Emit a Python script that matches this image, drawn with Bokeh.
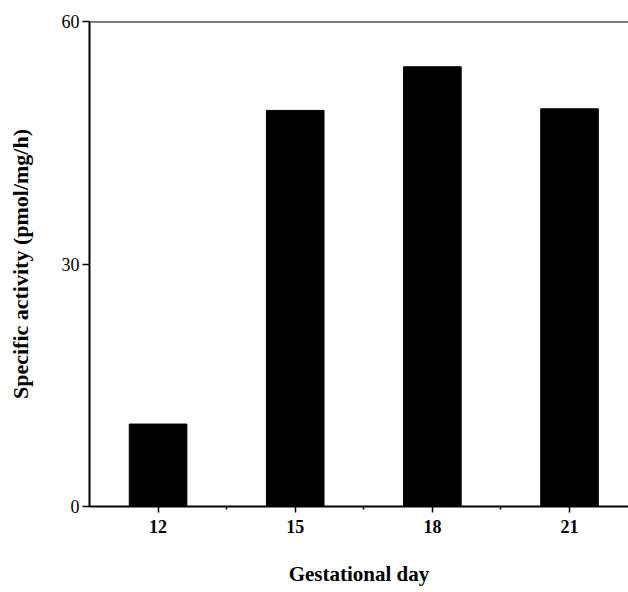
from bokeh.plotting import figure
from bokeh.models import FixedTicker, Range1d, Span
from bokeh.embed import file_html
from bokeh.resources import INLINE

days = [12, 15, 18, 21]
day_labels = ["12", "15", "18", "21"]
activity = [10.2, 49.0, 54.4, 49.2]
y_ticks = [0, 30, 60]

p = figure(width=628, height=592, output_backend="svg", toolbar_location=None,
           x_range=Range1d(10.5, 22.29), y_range=Range1d(0, 60),
           min_border_left=89, min_border_right=0, min_border_top=21, min_border_bottom=86)
p.vbar(x=days, top=activity, width=1.26, bottom=0, fill_color="black", line_color="black")

p.outline_line_color = None
p.grid.grid_line_color = None
p.background_fill_color = "white"
p.border_fill_color = "white"
p.add_layout(Span(location=60, dimension="width", line_color="black", line_width=2))

font = "Liberation Serif"
xa = p.xaxis[0]
xa.ticker = FixedTicker(ticks=days, minor_ticks=[13.5, 16.5, 19.5])
xa.major_label_overrides = {d: l for d, l in zip(days, day_labels)}
xa.axis_line_width = 2
xa.axis_line_color = "black"
xa.major_tick_line_color = "black"
xa.minor_tick_line_color = "black"
xa.major_tick_line_width = 1.5
xa.major_tick_out = 6
xa.major_tick_in = 0
xa.minor_tick_out = 3
xa.minor_tick_in = 0
xa.minor_tick_line_width = 1.5
xa.major_label_text_font = font
xa.major_label_text_font_style = "bold"
xa.major_label_text_font_size = "18px"
xa.major_label_text_color = "black"
xa.major_label_standoff = 7
xa.axis_label = "Gestational day"
xa.axis_label_text_font = font
xa.axis_label_text_font_style = "bold"
xa.axis_label_text_font_size = "21px"
xa.axis_label_text_color = "black"
xa.axis_label_standoff = 26

ya = p.yaxis[0]
ya.ticker = FixedTicker(ticks=y_ticks, minor_ticks=[])
ya.axis_line_width = 2
ya.axis_line_color = "black"
ya.major_tick_line_color = "black"
ya.major_tick_line_width = 1.5
ya.major_tick_out = 7
ya.major_tick_in = 0
ya.major_label_text_font = font
ya.major_label_text_font_size = "18px"
ya.major_label_text_color = "black"
ya.major_label_standoff = 3
ya.axis_label = "Specific activity (pmol/mg/h)"
ya.axis_label_text_font = font
ya.axis_label_text_font_style = "bold"
ya.axis_label_text_font_size = "22px"
ya.axis_label_text_color = "black"
ya.axis_label_standoff = 26

open("out.html", "w").write(file_html(p, INLINE))
